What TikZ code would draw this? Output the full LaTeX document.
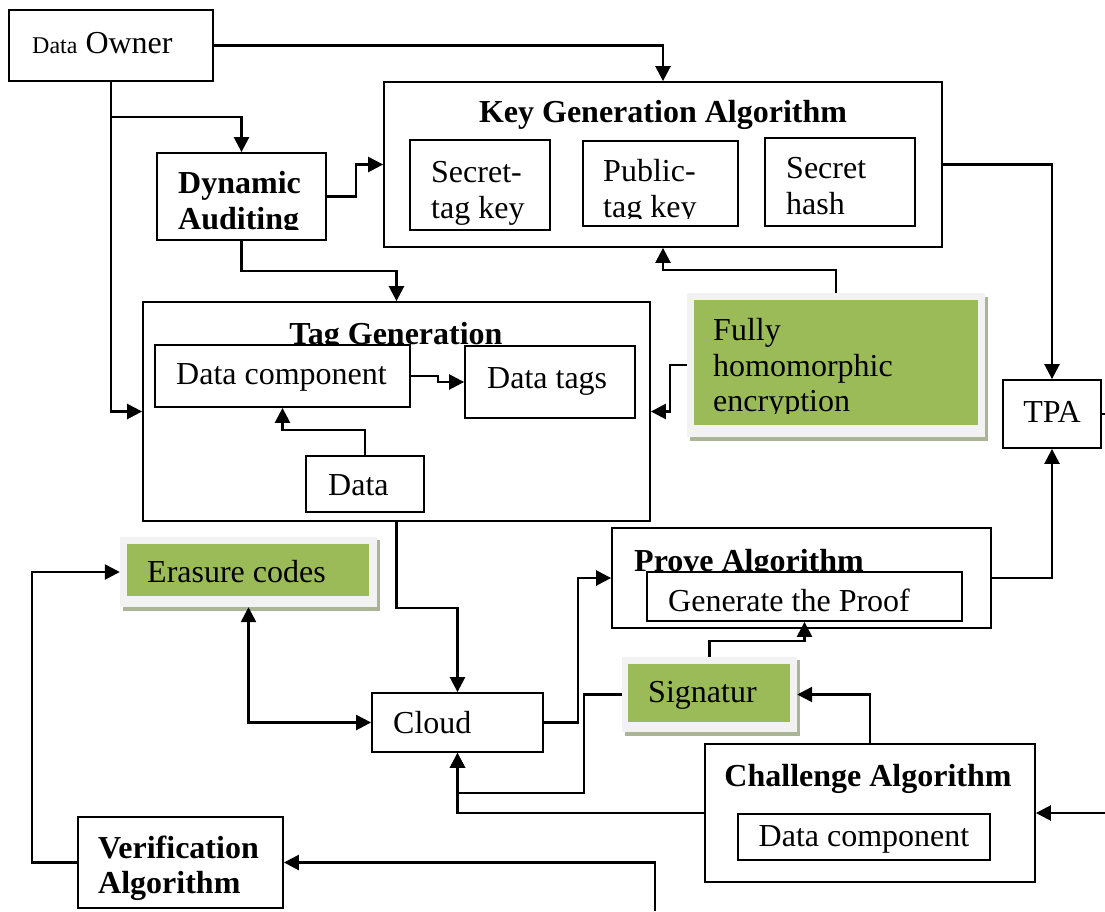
\documentclass[tikz,border=0pt]{standalone}
\usepackage{fontspec}
\setmainfont{Liberation Serif}
\usetikzlibrary{arrows.meta,fit}
\definecolor{gfill}{HTML}{9BBB59}
\definecolor{gframe}{HTML}{F2F2F2}
\definecolor{gshadow}{HTML}{A9B595}
\begin{document}
\begin{tikzpicture}[x=1pt,y=-1pt,
  box/.style={draw=black,line width=1.8pt,fill=white,inner sep=0pt},
  frame/.style={fill=gframe,inner sep=0pt},
  lbl/.style={inner sep=0pt,anchor=base west,font=\fontsize{32}{36}\selectfont},
  blbl/.style={lbl,font=\fontsize{32}{36}\selectfont\bfseries},
  conn/.style={line width=2.5pt,-{Triangle[length=15pt,width=15pt]}},
  biconn/.style={line width=2.5pt,{Triangle[length=15pt,width=15pt]}-{Triangle[length=15pt,width=15pt]}},
  plain/.style={line width=2.5pt},
]
\useasboundingbox (0,0) rectangle (1105,911);
\fill[white] (0,0) rectangle (1105,911);

% Data owner
\node[box,fit={(9,10) (213,81)}] (owner) {};
\node[lbl] (towner) at (32,53) {{\fontsize{24}{28}\selectfont Data} Owner};

% Key generation
\node[box,fit={(384,82) (942,247)}] (keygen) {};
\node[blbl,anchor=base] (tkeygen) at (663,122) {Key Generation Algorithm};
\node[box,fit={(410,140) (550,230)}] (sk) {};
\node[lbl] (tska) at (431,182) {Secret-};
\begin{scope}
\clip (410,140) rectangle (550,225);
\node[lbl] (tskb) at (431,218) {tag key};
\end{scope}
\node[box,fit={(583,141) (738,226)}] (pk) {};
\node[lbl] (tpka) at (603,181) {Public-};
\begin{scope}
\clip (583,141) rectangle (738,218);
\node[lbl] (tpkb) at (603,217) {tag key};
\end{scope}
\node[box,fit={(765,138) (915,226)}] (sh) {};
\node[lbl] (tsha) at (786,178) {Secret};
\node[lbl] (tshb) at (786,214) {hash};

% Dynamic auditing
\node[box,fit={(157,153) (326,240)}] (dyn) {};
\node[blbl] (tdyna) at (178,193) {Dynamic};
\begin{scope}
\clip (157,153) rectangle (326,229);
\node[blbl] (tdynb) at (178,229) {Auditing};
\end{scope}

% Tag generation
\node[box,fit={(143,302) (650,521)}] (taggen) {};
\node[blbl,anchor=base] (ttaggen) at (396,344) {Tag Generation};
\node[box,fit={(155,345) (410,407)}] (dc) {};
\node[lbl] (tdc) at (176,384) {Data component};
\node[box,fit={(465,346) (635,418)}] (dtags) {};
\node[lbl] (tdtags) at (487,388) {Data tags};
\node[box,fit={(306,456) (424,512)}] (data) {};
\node[lbl] (tdata) at (328,495) {Data};

% Fully homomorphic encryption
\fill[gshadow] (690,297) rectangle (988,441);
\node[frame,fit={(687,293) (985,437)}] (fhe) {};
\fill[gfill] (694,300) rectangle (978,425);
\node[lbl] (tfhea) at (713,340) {Fully};
\node[lbl] (tfheb) at (713,376) {homomorphic};
\begin{scope}
\clip (694,300) rectangle (978,413);
\node[lbl] (tfhec) at (713,411) {encryption};
\end{scope}

% TPA
\node[box,fit={(1003,380) (1101,448)}] (tpa) {};
\node[lbl,anchor=base] (ttpa) at (1052,422) {TPA};

% Erasure codes
\fill[gshadow] (123,540) rectangle (380,611);
\node[frame,fit={(120,537) (377,607)}] (erasure) {};
\fill[gfill] (127,544) rectangle (369,596);
\node[lbl] (terasure) at (147,582) {Erasure codes};

% Prove algorithm
\node[box,fit={(612,528) (991,628)}] (prove) {};
\node[blbl] (tprove) at (634,571) {Prove Algorithm};
\node[box,fit={(647,572) (962,621)}] (gp) {};
\begin{scope}
\clip (647,572) rectangle (962,613);
\node[lbl] (tgp) at (668,611) {Generate the Proof};
\end{scope}

% Cloud
\node[box,fit={(372,693) (543,752)}] (cloud) {};
\node[lbl] (tcloud) at (393,733) {Cloud};

% Signatur
\fill[gshadow] (625,660) rectangle (800,736);
\node[frame,fit={(622,657) (797,732)}] (sig) {};
\fill[gfill] (628,664) rectangle (790,722);
\node[lbl] (tsig) at (648,702) {Signatur};

% Challenge algorithm
\node[box,fit={(705,744) (1035,882)}] (chal) {};
\node[blbl,anchor=base] (tchal) at (868,786) {Challenge Algorithm};
\node[box,fit={(738,814) (990,860)}] (cdc) {};
\node[lbl,anchor=base] (tcdc) at (864,846) {Data component};

% Verification algorithm
\node[box,fit={(78,817) (283,908)}] (ver) {};
\node[blbl] (tvera) at (98,858) {Verification};
\node[blbl] (tverb) at (98,893) {Algorithm};

% free ends
\coordinate (j1) at (111,117);
\coordinate (rin) at (1105,813);
\coordinate (bin) at (655,911);
\coordinate (rout) at (1105,414);

% connectors
\draw[conn] (owner.east) -| (keygen.north);
\draw[conn] (owner.south) |- (taggen.west);
\draw[conn] (j1) -| (dyn.north);
\draw[conn] (dyn.east) -- ++(29,0) |- (keygen.west);
\draw[conn] (dyn.south) -- ++(0,30) -| (taggen.north);
\draw[conn] (dc.east) -- ++(27,0) |- (dtags.west);
\draw[conn] (data.north) -- ++(0,-25) -| (dc.south);
\draw[conn] (fhe.west) -- ++(-17,0) |- (taggen.east);
\draw[conn] (fhe.north) -- ++(0,-23) -| (keygen.south);
\draw[conn] (keygen.east) -| (tpa.north);
\draw[conn] (prove.east) -| (tpa.south);
\draw[plain] (tpa.east) -- (rout);
\draw[conn] (taggen.south) -- ++(0,86) -| (cloud.north);
\draw[biconn] (erasure.south) |- (cloud.west);
\draw[conn] (cloud.east) -- ++(34,0) |- (prove.west);
\draw[conn] (sig.north) -- ++(0,-16) -| (gp.south);
\draw[conn] (sig.west) -- ++(-38,0) -- ++(0,98.5) -| (cloud.south);
\draw[conn] (chal.west) -| (cloud.south);
\draw[conn] (chal.north) |- (sig.east);
\draw[conn] (rin) -- (chal.east);
\draw[conn] (ver.west) -- ++(-45,0) |- (erasure.west);
\draw[conn] (bin) |- (ver.east);
\end{tikzpicture}
\end{document}
